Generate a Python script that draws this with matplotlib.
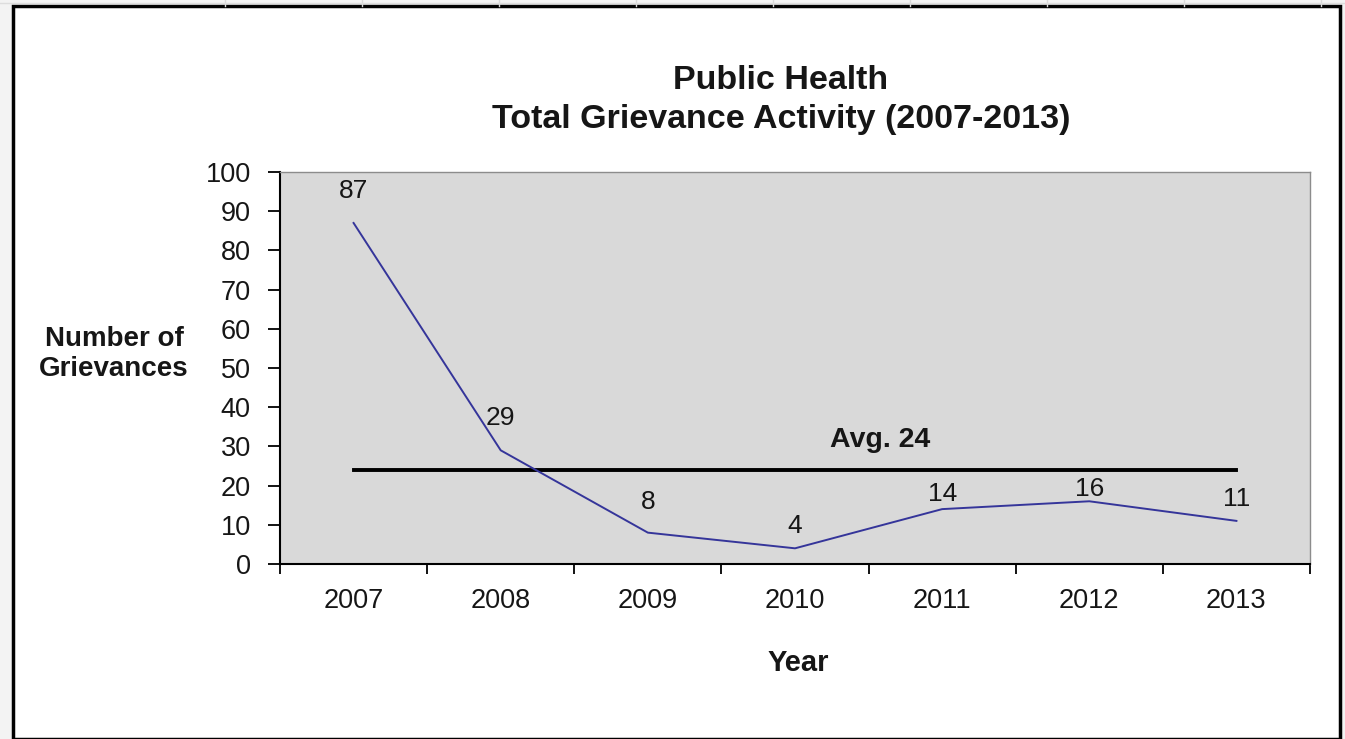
import matplotlib
matplotlib.use("Agg")
import matplotlib.pyplot as plt
from matplotlib.patches import Rectangle
from matplotlib.lines import Line2D

plt.rcParams['font.family'] = ['Liberation Sans', 'DejaVu Sans']

years = ["2007", "2008", "2009", "2010", "2011", "2012", "2013"]
grievances = [87, 29, 8, 4, 14, 16, 11]
average = 24
avg_label = "Avg. 24"
title = "Public Health\nTotal Grievance Activity (2007-2013)"
y_ticks = [0, 10, 20, 30, 40, 50, 60, 70, 80, 90, 100]

# label gaps above each point (pixels), as manually placed in the original
label_gap_px = [25, 25, 24, 15, 8, 5, 15]

W, H = 1345, 739
fig = plt.figure(figsize=(W / 100, H / 100), dpi=100)
fig.patch.set_facecolor("#F3F3F3")

# spreadsheet grid strip at top
for gx in [225, 362, 499, 636, 773, 910, 1047, 1184, 1321]:
    fig.add_artist(Line2D([gx / W, gx / W], [1 - 6 / H, 1.0], color="#D8D8D8", lw=1))
fig.add_artist(Line2D([0, 1], [1 - 3 / H, 1 - 3 / H], color="#DDDDDD", lw=1))

# chart frame
fig.add_artist(Rectangle((13 / W, 0 / H), (1340 - 13) / W, (739 - 6) / H,
                         transform=fig.transFigure, facecolor="white",
                         edgecolor="black", lw=2.5, zorder=0))

ax = fig.add_axes([280 / W, 1 - 564 / H, (1310 - 280) / W, (564 - 172) / H])
ax.set_facecolor("#D9D9D9")

txt = "#161616"
x = list(range(len(years)))
ax.plot(x, grievances, color="#35359A", lw=1.4, zorder=3)
ax.plot([x[0], x[-1]], [average, average], color="black", lw=2.8, zorder=2)

for xi, v, g in zip(x, grievances, label_gap_px):
    ax.annotate(str(v), (xi, v), xytext=(0, g * 0.72), textcoords="offset points",
                ha="center", va="baseline", fontsize=19, color=txt, zorder=4)

ax.text(3.58, average + 4.3, avg_label, ha="center", va="bottom",
        fontsize=20.5, fontweight="bold", color=txt)

ax.set_xlim(-0.5, len(years) - 0.5)
ax.set_ylim(0, 100)
ax.set_yticks(y_ticks)
ax.set_yticklabels([str(t) for t in y_ticks], fontsize=19.5, color=txt)
ax.set_xticks([i - 0.5 for i in range(len(years) + 1)])
ax.set_xticklabels([])
ax.set_xticks(x, minor=True)
ax.set_xticklabels(years, minor=True, fontsize=19.5, color=txt)
ax.tick_params(axis="x", which="minor", length=0, pad=17)
ax.tick_params(axis="x", which="major", length=7.5, width=1.3, direction="out")
ax.tick_params(axis="y", length=9, width=1.3, direction="out", pad=12)

for s in ["left", "bottom"]:
    ax.spines[s].set_color("black")
    ax.spines[s].set_linewidth(1.5)
for s in ["top", "right"]:
    ax.spines[s].set_color("#8C8C8C")
    ax.spines[s].set_linewidth(1.0)

fig.text(798 / W, 1 - 663 / H, "Year", ha="center", va="center",
         fontsize=21, fontweight="bold", color=txt)
fig.text(114 / W, 1 - 354 / H, "Number of\nGrievances", ha="center", va="center",
         fontsize=20, fontweight="bold", linespacing=1.2, color=txt)
fig.text(781 / W, 1 - 100 / H, title, ha="center", va="center", fontsize=24.5,
         fontweight="bold", linespacing=1.35, color=txt)

fig.savefig("out.png", dpi=100, facecolor=fig.get_facecolor())
